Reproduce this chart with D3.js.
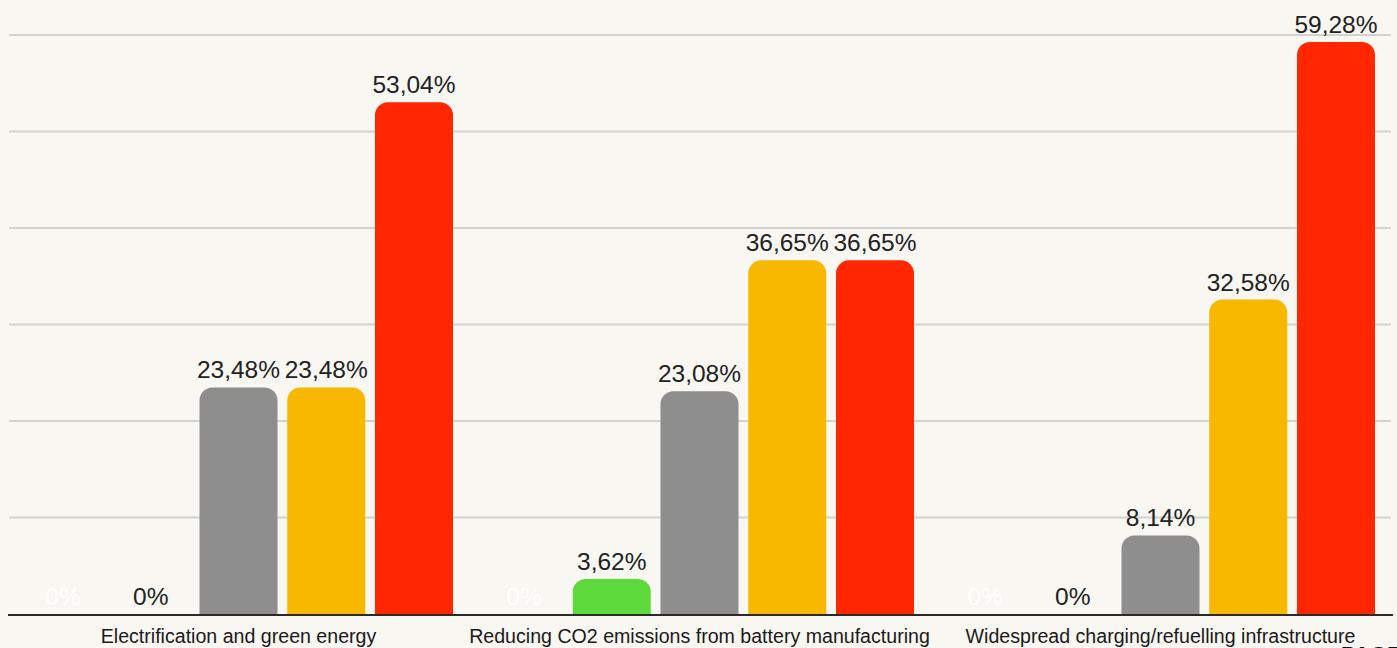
<!DOCTYPE html>
<html><head><meta charset="utf-8">
<script src="https://cdn.jsdelivr.net/npm/d3@7"></script>
<style>html,body{margin:0;padding:0;background:#f8f7f2;overflow:hidden}svg{display:block}</style>
</head><body><svg id="c" width="1397" height="648"></svg>
<script>
const categories = ["Electrification and green energy","Reducing CO2 emissions from battery manufacturing","Widespread charging/refuelling infrastructure"];
const seriesNames = ["s0","s1","s2","s3","s4"];
const seriesColors = ["#f8f7f2","#5ed93b","#8e8e8e","#f8b800","#ff2600"];
const labelColors = ["#ffffff","#222222","#222222","#222222","#222222"];
const s0 = [0,0,0];
const s1 = [0,3.62,0];
const s2 = [23.48,23.08,8.14];
const s3 = [23.48,36.65,32.58];
const s4 = [53.04,36.65,59.28];
const series = [s0,s1,s2,s3,s4];
const gridTicks = [10,20,30,40,50,60];

const svg = d3.select("#c");
const W=1397,H=648;
svg.append("rect").attr("width",W).attr("height",H).attr("fill","#f8f7f2");
const y = d3.scaleLinear().domain([0,60]).range([614,35]);
const x0 = d3.scaleBand().domain(categories).range([8,1391]).paddingInner(0.0694).paddingOuter(0.0347);
const x1 = d3.scaleBand().domain(seriesNames).range([0,x0.bandwidth()]).paddingInner(0.111).paddingOuter(0);

svg.append("g").selectAll("line").data(gridTicks).join("line")
 .attr("x1",9).attr("x2",1391).attr("y1",d=>y(d)).attr("y2",d=>y(d))
 .attr("stroke","#d2d2cf").attr("stroke-width",2);

function topRounded(x,yTop,w,h,r){
  r=Math.min(r,h,w/2);
  if(h<=0) return "";
  return `M${x},${yTop+h}V${yTop+r}A${r},${r} 0 0 1 ${x+r},${yTop}H${x+w-r}A${r},${r} 0 0 1 ${x+w},${yTop+r}V${yTop+h}Z`;
}
const fmt = v => (v===0?"0":d3.format(".2f")(v).replace(".",","))+"%";
const data=[];
categories.forEach((c,i)=>series.forEach((s,j)=>data.push({c,j,v:s[i]})));
const g = svg.append("g");
g.selectAll("path").data(data.filter(d=>d.v>0)).join("path")
 .attr("d",d=>topRounded(x0(d.c)+x1(seriesNames[d.j]),y(d.v),x1.bandwidth(),y(0)-y(d.v),13))
 .attr("fill",d=>seriesColors[d.j]);
g.selectAll("text").data(data).join("text")
 .attr("x",d=>x0(d.c)+x1(seriesNames[d.j])+x1.bandwidth()/2)
 .attr("y",d=>y(d.v)-9)
 .attr("text-anchor","middle")
 .attr("font-family","Liberation Sans, Arial, sans-serif")
 .attr("font-size",24.5)
 .attr("fill",d=>labelColors[d.j])
 .text(d=>fmt(d.v));

svg.append("line").attr("x1",8).attr("x2",1393).attr("y1",y(0)+1).attr("y2",y(0)+1)
 .attr("stroke","#2a2a2a").attr("stroke-width",2);

const xAxis = d3.axisBottom(x0).tickSize(0).tickPadding(0);
const ax = svg.append("g").attr("transform","translate(0,643)").call(xAxis);
ax.select(".domain").remove();
ax.selectAll("text").attr("font-family","Liberation Sans, Arial, sans-serif").attr("font-size",19.6).attr("fill","#1a1a1a").attr("dy",0);

svg.append("text").attr("x",1341).attr("y",662).attr("font-family","Liberation Sans, Arial, sans-serif")
 .attr("font-weight","bold").attr("font-size",22).attr("fill","#111").text("PAGE");
</script></body></html>
